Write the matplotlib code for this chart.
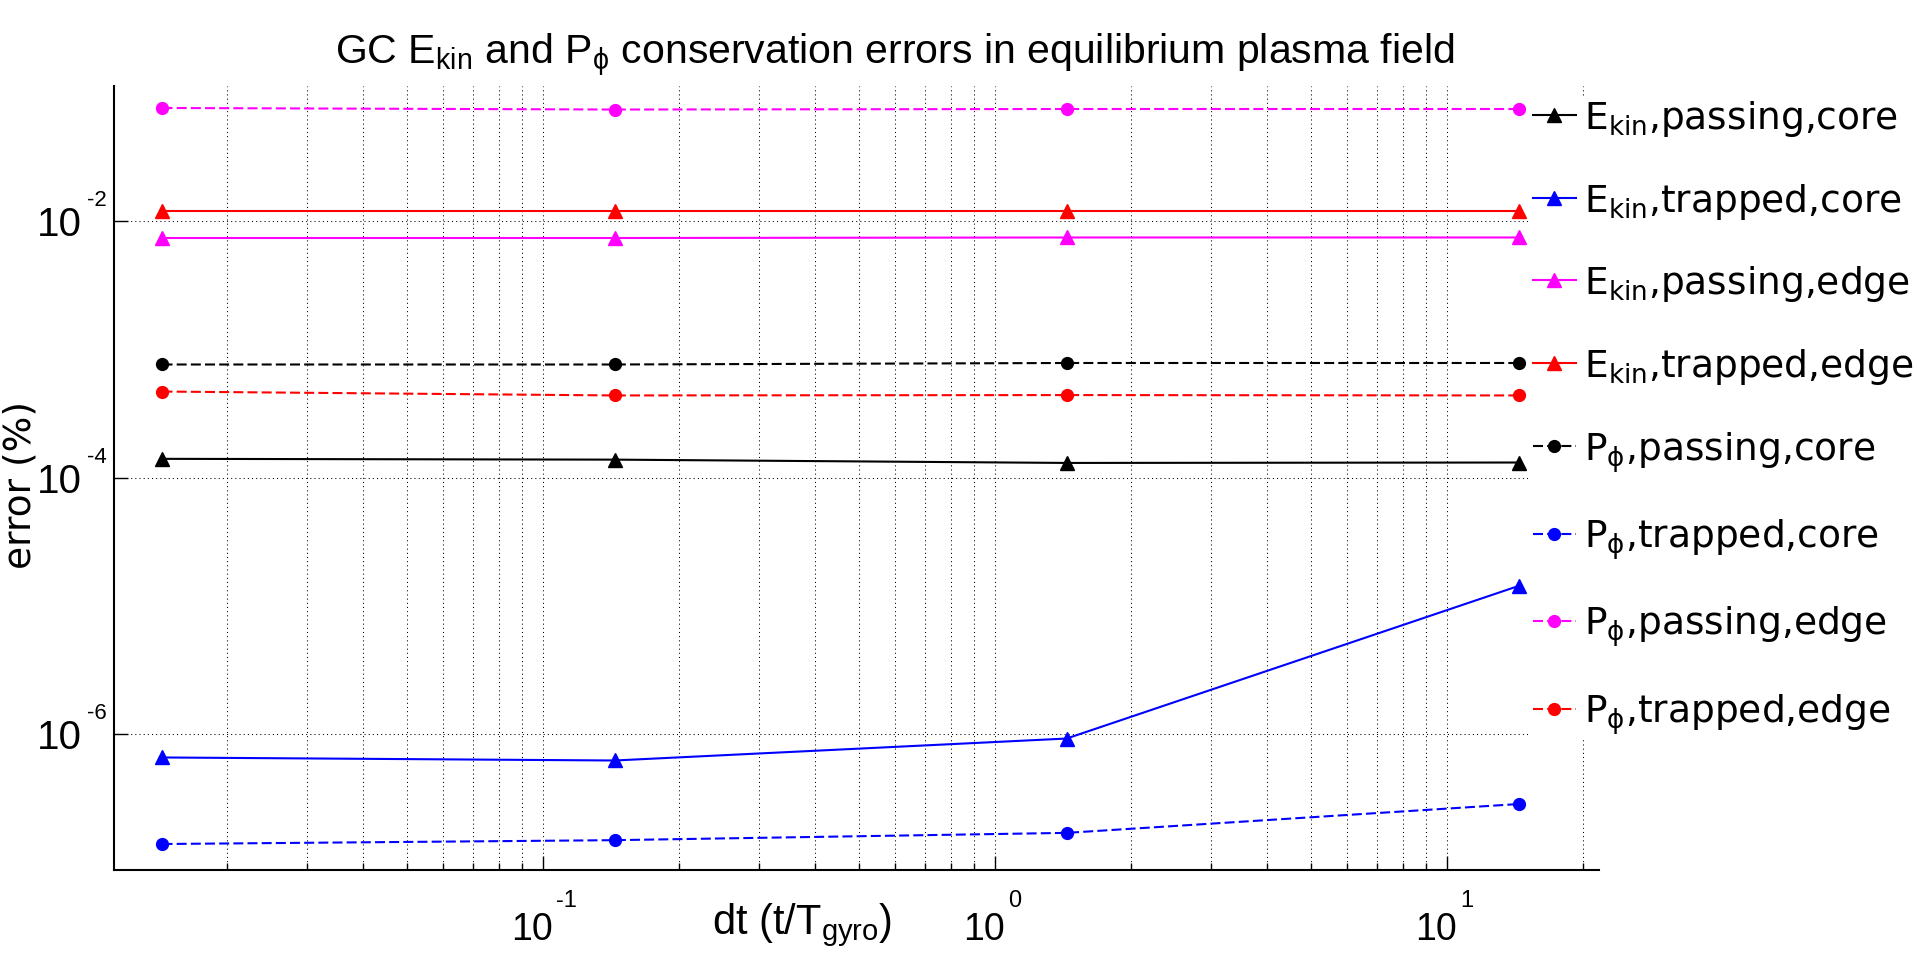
import math
import matplotlib
matplotlib.use('Agg')
import matplotlib.pyplot as plt
from matplotlib.ticker import LogLocator, FixedLocator, NullLocator, NullFormatter
from matplotlib.transforms import ScaledTranslation

# ---- data ----
dt = [0.0144, 0.144, 1.44, 14.4]
ekin_passing_core = [1.41e-4, 1.39e-4, 1.31e-4, 1.32e-4]
ekin_trapped_core = [6.62e-7, 6.27e-7, 9.3e-7, 1.44e-5]
ekin_passing_edge = [7.43e-3, 7.43e-3, 7.5e-3, 7.5e-3]
ekin_trapped_edge = [1.21e-2, 1.21e-2, 1.21e-2, 1.21e-2]
pphi_passing_core = [7.67e-4, 7.67e-4, 7.88e-4, 7.88e-4]
pphi_trapped_core = [1.40e-7, 1.50e-7, 1.71e-7, 2.87e-7]
pphi_passing_edge = [7.67e-2, 7.46e-2, 7.53e-2, 7.53e-2]
pphi_trapped_edge = [4.72e-4, 4.40e-4, 4.43e-4, 4.40e-4]

labels = [r'$\mathregular{E_{kin}}$,passing,core', r'$\mathregular{E_{kin}}$,trapped,core',
          r'$\mathregular{E_{kin}}$,passing,edge', r'$\mathregular{E_{kin}}$,trapped,edge',
          r'$\mathregular{P_{ϕ}}$,passing,core', r'$\mathregular{P_{ϕ}}$,trapped,core',
          r'$\mathregular{P_{ϕ}}$,passing,edge', r'$\mathregular{P_{ϕ}}$,trapped,edge']
series = [ekin_passing_core, ekin_trapped_core, ekin_passing_edge, ekin_trapped_edge,
          pphi_passing_core, pphi_trapped_core, pphi_passing_edge, pphi_trapped_edge]
colors = ['black', 'blue', 'magenta', 'red', 'black', 'blue', 'magenta', 'red']
x_ticks = [1e-1, 1e0, 1e1]
y_ticks = [1e-6, 1e-4, 1e-2]

plt.rcParams['mathtext.fontset'] = 'dejavusans'
plt.rcParams['font.family'] = ['DejaVu Sans']

W, H = 1916, 962
fig = plt.figure(figsize=(W / 100, H / 100), dpi=100)
ax = fig.add_axes([114 / W, 1 - 871 / H, (1599 - 114) / W, (871 - 87) / H])
ax.set_xscale('log')
ax.set_yscale('log')

dash = (0, (4.8, 2.0))
for i, (lab, ys, c) in enumerate(zip(labels, series, colors)):
    if i < 4:
        ax.plot(dt, ys, color=c, lw=1.5, marker='^', ms=9.5, label=lab)
    else:
        ax.plot(dt, ys, color=c, lw=1.5, ls=dash, marker='o', ms=8.5, label=lab)

ax.set_xlim(0.011248, 21.68)
ax.set_ylim(8.78e-8, 0.1138)

ax.xaxis.set_major_locator(FixedLocator(x_ticks))
ax.xaxis.set_minor_locator(LogLocator(base=10, subs=range(2, 10)))
ax.xaxis.set_minor_formatter(NullFormatter())
ax.yaxis.set_major_locator(FixedLocator(y_ticks))
ax.yaxis.set_minor_locator(NullLocator())

gs = dict(color='black', ls=(0, (1, 3)), lw=0.75)
ax.grid(True, which='major', axis='y', **gs)
ax.grid(True, which='both', axis='x', **gs)

for s in ['top', 'right']:
    ax.spines[s].set_visible(False)
for s in ['left', 'bottom']:
    ax.spines[s].set_linewidth(1.5)
ax.tick_params(which='major', direction='in', length=10, width=1, top=False, right=False,
               labelbottom=False, labelleft=False)
ax.tick_params(which='minor', direction='in', length=5.4, width=1, top=False, right=False)


def px(dx, dy):
    return ScaledTranslation(dx / 100, dy / 100, fig.dpi_scale_trans)


# tick labels in MATLAB style: base "10" plus a raised exponent
xt = ax.get_xaxis_transform()
for v in x_ticks:
    e = int(round(math.log10(v)))
    ax.text(v, 0, '10', transform=xt + px(10, -69), ha='right', va='baseline',
            fontsize=27, family='Liberation Sans', clip_on=False)
    ax.text(v, 0, str(e), transform=xt + px(13, -36), ha='left', va='baseline',
            fontsize=17, family='Liberation Sans', clip_on=False)

yt = ax.get_yaxis_transform()
for v in y_ticks:
    e = int(round(math.log10(v)))
    ax.text(0, v, '10', transform=yt + px(-32, -14), ha='right', va='baseline',
            fontsize=29, family='Liberation Sans', clip_on=False)
    ax.text(0, v, str(e), transform=yt + px(-27, 16), ha='left', va='baseline',
            fontsize=16, family='Liberation Sans', clip_on=False)

leg = ax.legend(loc='upper left', bbox_to_anchor=(1531 / W, 1 - 97 / H), bbox_transform=fig.transFigure,
                fontsize=27, frameon=True, fancybox=False, borderpad=0.05, borderaxespad=0,
                handlelength=1.15, handletextpad=0.2, labelspacing=1.14)
leg.get_frame().set_edgecolor('none')
leg.get_frame().set_facecolor('white')
leg.get_frame().set_alpha(1)

fig.text(895 / W, 1 - 64 / H,
         r'GC $\mathregular{E_{kin}}$ and $\mathregular{P_{ϕ}}$ conservation errors in equilibrium plasma field',
         ha='center', va='baseline', fontsize=29.5, family='Liberation Sans')
fig.text(802 / W, 1 - 934 / H, r'dt (t/$\mathregular{T_{gyro}}$)', ha='center', va='baseline',
         fontsize=30, family='Liberation Sans')
fig.text(3 / W, 1 - 485 / H, 'error (%)', rotation=90, ha='left', va='center', fontsize=27)

fig.savefig('out.png', dpi=100, facecolor='white')
